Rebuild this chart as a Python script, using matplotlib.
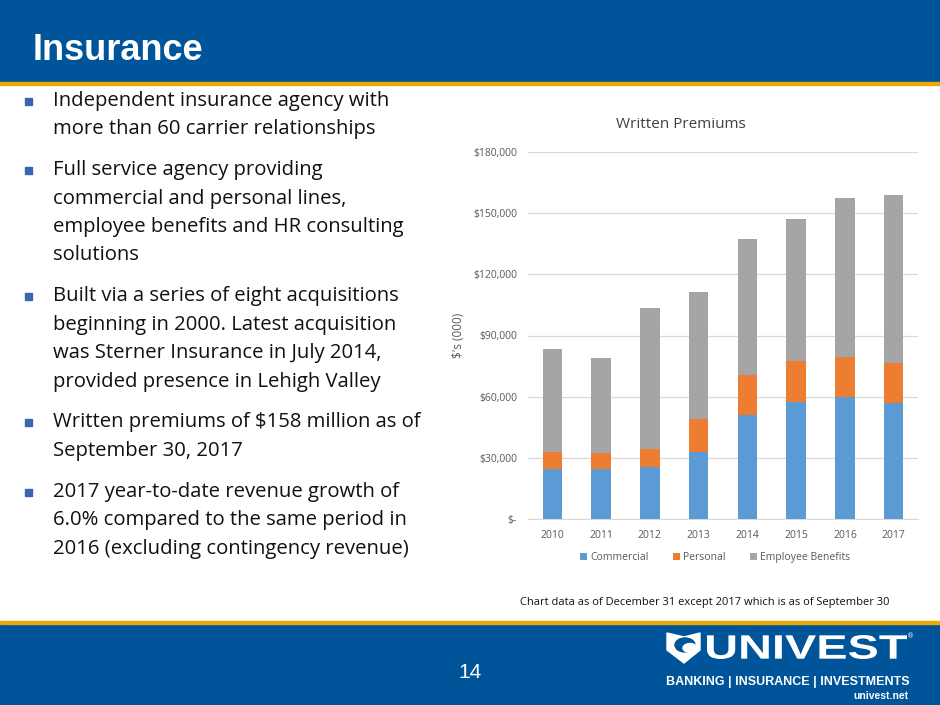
import matplotlib.pyplot as plt
import matplotlib.patches as patches
from matplotlib.textpath import TextPath
from matplotlib.font_manager import FontProperties
from matplotlib.transforms import Affine2D
import numpy as np

# chart data ($000s)
years = ["2010", "2011", "2012", "2013", "2014", "2015", "2016", "2017"]
commercial = [24400, 24400, 25500, 33000, 50900, 57400, 59700, 56900]
personal = [8300, 8200, 8700, 15900, 19800, 20000, 19800, 19700]
employee_benefits = [50700, 46400, 69200, 62200, 66700, 69800, 77900, 82300]
series_names = ["Commercial", "Personal", "Employee Benefits"]
yticks = [0, 30000, 60000, 90000, 120000, 150000, 180000]
ytick_labels = ["$-", "$30,000", "$60,000", "$90,000", "$120,000", "$150,000", "$180,000"]

bullets = [
    ["Independent insurance agency with", "more than 60 carrier relationships"],
    ["Full service agency providing", "commercial and personal lines,",
     "employee benefits and HR consulting", "solutions"],
    ["Built via a series of eight acquisitions", "beginning in 2000. Latest acquisition",
     "was Sterner Insurance in July 2014,", "provided presence in Lehigh Valley"],
    ["Written premiums of $158 million as of", "September 30, 2017"],
    ["2017 year-to-date revenue growth of", "6.0% compared to the same period in",
     "2016 (excluding contingency revenue)"],
]

W, H = 940, 705
BLUE = "#00549A"
GOLD = "#EBA800"
body_font = "Open Sans"

fig = plt.figure(figsize=(9.4, 7.05), dpi=100)

def fy(y):
    return 1 - y / H

# header + footer bands
fig.patches.append(patches.Rectangle((0, fy(82)), 1, 82 / H, transform=fig.transFigure, color=BLUE, zorder=0))
fig.patches.append(patches.Rectangle((0, fy(85)), 1, 3 / H, transform=fig.transFigure, color=GOLD, zorder=0))
fig.patches.append(patches.Rectangle((0, 0), 1, 81 / H, transform=fig.transFigure, color=BLUE, zorder=0))
fig.patches.append(patches.Rectangle((0, fy(624)), 1, 3 / H, transform=fig.transFigure, color=GOLD, zorder=0))

fig.text(33 / W, fy(51), "Insurance", color="white", fontsize=26, fontweight="bold",
         family="Liberation Sans", va="center", ha="left")

# bullet list
y = 101
for b in bullets:
    fig.patches.append(patches.Rectangle((25 / W, fy(y + 4)), 7 / W, 7 / H,
                                         transform=fig.transFigure, color="#3A66B0"))
    for line in b:
        fig.text(53 / W, fy(y), line, fontsize=14.6, family=body_font, va="center", ha="left", color="#111111")
        y += 28.4
    y += 12.5

# chart
ax = fig.add_axes([528 / W, 1 - 519 / H, 390 / W, 367 / H])
x = np.arange(len(years))
bw = 0.4
c1 = np.array(commercial)
c2 = np.array(personal)
c3 = np.array(employee_benefits)
ax.bar(x, c1, bw, color="#5B9BD5", label=series_names[0], zorder=3)
ax.bar(x, c2, bw, bottom=c1, color="#ED7D31", label=series_names[1], zorder=3)
ax.bar(x, c3, bw, bottom=c1 + c2, color="#A5A5A5", label=series_names[2], zorder=3)

ax.set_xlim(-0.5, len(years) - 0.5)
ax.set_ylim(0, 180000)
ax.set_yticks(yticks)
ax.set_yticklabels(ytick_labels)
ax.set_xticks(x)
ax.set_xticklabels(years)
ax.grid(axis="y", color="#D9D9D9", linewidth=0.9, zorder=0)
for s in ["top", "right", "left"]:
    ax.spines[s].set_visible(False)
ax.spines["bottom"].set_color("#D9D9D9")
ax.tick_params(length=0, labelsize=7.5, labelcolor="#595959", pad=8)
for lab in ax.get_xticklabels() + ax.get_yticklabels():
    lab.set_family(body_font)
ax.set_ylabel("$'s (000)", fontsize=8.5, color="#595959", family=body_font, labelpad=6)
ax.set_title("Written Premiums", fontsize=11, color="#404040", family=body_font, pad=17, x=0.392)

leg = ax.legend(loc="upper center", bbox_to_anchor=(0.48, -0.065), ncol=3, frameon=False,
                handlelength=0.7, handleheight=0.7, handletextpad=0.3, columnspacing=2.3,
                prop={"family": body_font, "size": 7.5})
for t in leg.get_texts():
    t.set_color("#595959")

fig.text(705 / W, fy(603), "Chart data as of December 31 except 2017 which is as of September 30",
         fontsize=8, family=body_font, ha="center", va="center", color="#111111")

# footer
fig.text(470 / W, fy(672), "14", color="white", fontsize=15, family="Liberation Sans", ha="center", va="center")

# logo drawn on a full-figure overlay in pixel coordinates
ov = fig.add_axes([0, 0, 1, 1], zorder=5)
ov.set_xlim(0, W)
ov.set_ylim(H, 0)
ov.axis("off")

shield = patches.Polygon([(667, 633), (684, 637), (700, 633), (700, 650), (684, 663), (667, 650)],
                         closed=True, color="white")
ov.add_patch(shield)
ov.add_patch(patches.Ellipse((685, 645), 20, 14, color=BLUE))
ov.add_patch(patches.Ellipse((690, 648), 14, 9, color="white"))

tp = TextPath((0, 0), "UNIVEST", size=1, prop=FontProperties(family="Liberation Sans", weight="bold"))
ext = tp.get_extents()
sx = 200 / ext.width
sy = 24 / ext.height
tr = Affine2D().translate(-ext.x0, -ext.y0).scale(sx, -sy).translate(707, 659)
ov.add_patch(patches.PathPatch(tp, transform=tr + ov.transData, color="white", lw=0))
ov.text(907, 636, "®", color="white", fontsize=5, ha="left", va="center")

ov.text(788, 682, "BANKING | INSURANCE | INVESTMENTS", color="white", fontsize=9,
        fontweight="bold", family="Liberation Sans", ha="center", va="center")
ov.text(908, 696, "univest.net", color="white", fontsize=7.5, fontweight="bold",
        family="Liberation Sans", ha="right", va="center")

fig.savefig("out.png", dpi=100)
